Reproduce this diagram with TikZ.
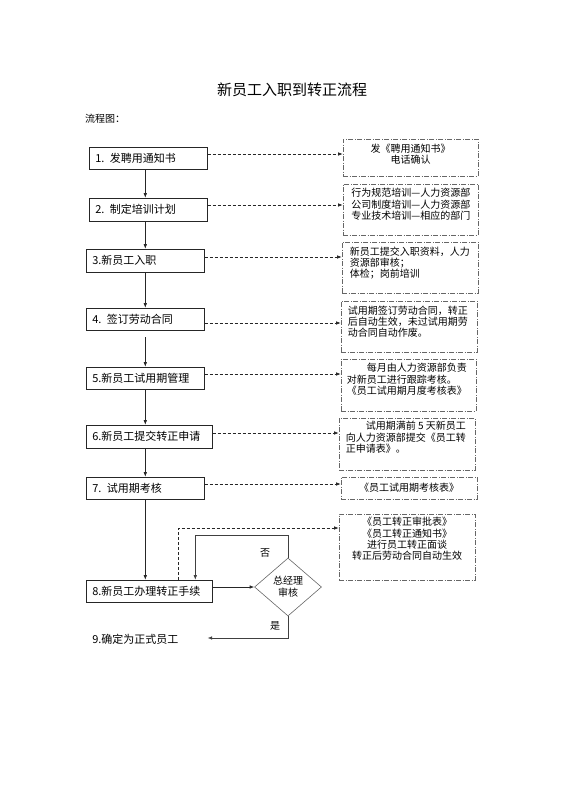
\documentclass[tikz,border=0pt]{standalone}
\usepackage{fontspec}
\setmainfont{Noto Sans CJK SC}
\usetikzlibrary{arrows.meta,shapes.geometric}
\tikzset{
  stepbox/.style={draw=black!85, line width=0.6pt, anchor=west, minimum height=22pt, text width=106pt, align=left, inner xsep=6pt, inner ysep=0pt, font=\fontsize{11}{13}\selectfont},
  notebox/.style={draw=black!60, line width=0.6pt, dash pattern=on 5pt off 1.5pt on 1pt off 1.5pt, minimum width=135pt, inner sep=0pt},
  notetext/.style={anchor=north west, inner xsep=7pt, inner ysep=4.5pt, align=left, font=\fontsize{10}{11.3}\selectfont},
  decide/.style={diamond, draw=black!60, line width=0.6pt, minimum width=67pt, minimum height=58pt, inner sep=0pt, align=center, font=\fontsize{10}{12}\selectfont},
  arr/.style={-{Latex[length=4.5pt,width=3.5pt]}, line width=0.6pt, draw=black!85},
  dasharr/.style={arr, dash pattern=on 3pt off 2pt},
}
\begin{document}
\begin{tikzpicture}[x=1pt, y=-1pt]
		%%%%% START %%%%%
		\useasboundingbox (0,0) rectangle (560,792);
		
		\node[font=\fontsize{15}{18}\selectfont] (title) at (292,90) {新员工入职到转正流程};
		\node[anchor=west, inner sep=0pt, font=\fontsize{10}{12}\selectfont] (caption) at (85,119) {流程图：};
		
		% steps
		\node[stepbox] (b1) at (89,158) {1. 发聘用通知书};
		\node[stepbox, minimum height=23pt] (b2) at (89,209.5) {2. 制定培训计划};
		\node[stepbox, minimum height=23pt] (b3) at (86,260.5) {3.新员工入职};
		\node[stepbox] (b4) at (86,319) {4. 签订劳动合同};
		\node[stepbox] (b5) at (86,378) {5.新员工试用期管理};
		\node[stepbox, minimum height=23pt, text width=114pt] (b6) at (86,436.5) {6.新员工提交转正申请};
		\node[stepbox] (b7) at (86,488) {7. 试用期考核};
		\node[stepbox, text width=114pt] (b8) at (86,591) {8.新员工办理转正手续};
		\node[stepbox, draw=none] (b9) at (86,639) {9.确定为正式员工};
		
		\node[decide] (dia) at (288,587) {总经理\\审核};
		\node[font=\fontsize{10}{12}\selectfont] (no) at (265,553) {否};
		\node[font=\fontsize{10}{12}\selectfont] (yes) at (275,626) {是};
		
		% notes
		\node[notebox, minimum height=37pt] (r1) at (410.5,157.5) {};
		\node[notetext, anchor=north, align=center, inner ysep=5pt] at (r1.north) {发《聘用通知书》\\电话确认};
		\node[notebox, minimum height=51pt] (r2) at (410.5,209.5) {};
		\node[notetext, inner xsep=8.5pt] at (r2.north west) {行为规范培训—人力资源部\\公司制度培训—人力资源部\\专业技术培训—相应的部门};
		\node[notebox, minimum height=51pt, minimum width=136pt] (r3) at (410,267.5) {};
		\node[notetext, inner xsep=8pt, inner ysep=5pt] at (r3.north west) {新员工提交入职资料，人力\\资源部审核；\\体检；岗前培训};
		\node[notebox, minimum height=51pt, minimum width=136pt] (r4) at (409,326.5) {};
		\node[notetext, inner ysep=5pt] at (r4.north west) {试用期签订劳动合同，转正\\后自动生效，未过试用期劳\\动合同自动作废。};
		\node[notebox, minimum height=52pt] (r5) at (408.5,385) {};
		\node[notetext, inner xsep=6pt] at (r5.north west) {\hspace*{2em}每月由人力资源部负责\\对新员工进行跟踪考核。\\《员工试用期月度考核表》};
		\node[notebox, minimum height=52pt, minimum width=136pt] (r6) at (407,444) {};
		\node[notetext, inner ysep=3.5pt] at (r6.north west) {\hspace*{2em}试用期满前 5 天新员工\\向人力资源部提交《员工转\\正申请表》。};
		\node[notebox, minimum height=22pt, minimum width=136pt, font=\fontsize{10}{12}\selectfont] (r7) at (409,488) {《员工试用期考核表》};
		\node[notebox, minimum height=66pt, minimum width=136pt] (r8) at (407,547) {};
		\node[notetext, anchor=north, align=center, inner ysep=3.5pt] at (r8.north) {《员工转正审批表》\\《员工转正通知书》\\进行员工转正面谈\\转正后劳动合同自动生效};
		
		% main line
		\draw[arr] (b1.south -| b3.south) -- (b2.north -| b3.south);
		\draw[arr] (b2.south -| b3.south) -- (b3.north);
		\draw[arr] (b3.south) -- (b4.north);
		\draw[arr, shorten <=7pt] (b4.south) -- (b5.north);
		\draw[arr] (b5.south) -- (b5.south |- b6.north);
		\draw[arr] (b6.south -| b7.south) -- (b7.north);
		\draw[arr] (b7.south) -- (b7.south |- b8.north);
		
		% dashed links to notes
		\draw[dasharr] ([yshift=4pt]b1.east) -- ([yshift=4pt]b1.east -| r1.west);
		\draw[dasharr] ([yshift=4.5pt]b2.east) -- ([yshift=4.5pt]b2.east -| r2.west);
		\draw[dasharr] ([yshift=3.5pt]b3.east) -- ([yshift=3.5pt]b3.east -| r3.west);
		\draw[dasharr] ([yshift=-4pt]b4.east) -- ([yshift=-4pt]b4.east -| r4.west);
		\draw[dasharr] ([yshift=4pt]b5.east) -- ([yshift=4pt]b5.east -| r5.west);
		\draw[dasharr] ([yshift=3.5pt]b6.east) -- ([yshift=3.5pt]b6.east -| r6.west);
		\draw[dasharr] ([yshift=4pt]b7.east) -- ([yshift=4pt]b7.east -| r7.west);
		\draw[dasharr] ([xshift=29pt]b8.north) |- ([yshift=19pt]r8.west);
		
		% review
		\draw[arr] (b8.east |- dia.west) -- (dia.west);
		\draw[arr, draw=black!75] (dia.north) |- ([xshift=46pt, yshift=44pt]b8.north) -- ([xshift=46pt]b8.north);
		\draw[arr, draw=black!75] (dia.south) |- ([xshift=3pt, yshift=1pt]b9.east);
		
		%%%%% END %%%%%
	\end{tikzpicture}
\end{document}
